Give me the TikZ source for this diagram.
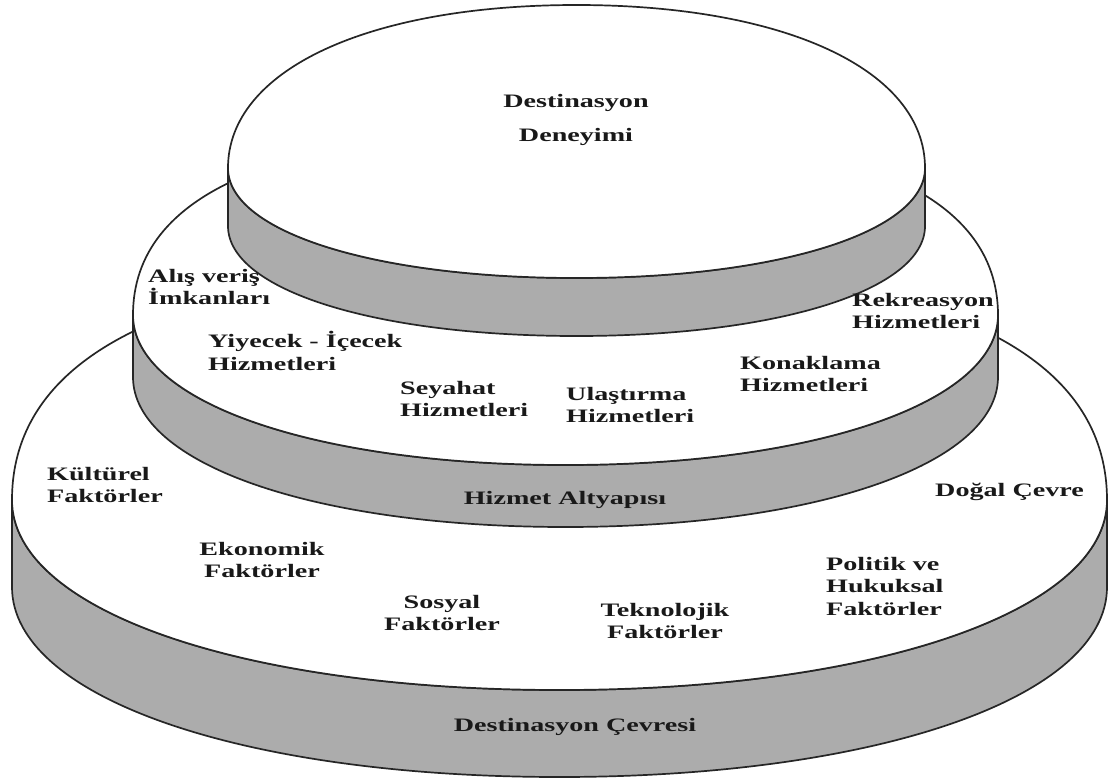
\documentclass[tikz,border=0pt]{standalone}
\usepackage{fontspec}
\setmainfont{Liberation Serif}[FakeStretch=1.48]
\definecolor{bandgray}{RGB}{172,172,172}
\newcommand\drawdisc[7]{%
  % #1 left x, #2 right x, #3 side y, #4 upper radius, #5 lower radius, #6 thickness, #7 upper squareness
  \pgfmathsetmacro\dCX{(#1+#2)/2}%
  \pgfmathsetmacro\dKX{0.58*(#2-#1)/2}%
  \pgfmathsetmacro\dKXU{#7*(#2-#1)/2}%
  \pgfmathsetmacro\dKU{#7*#4}%
  \pgfmathsetmacro\dKD{0.58*#5}%
  \pgfmathsetmacro\dYT{#3-#4}%
  \pgfmathsetmacro\dYB{#3+#5}%
  \filldraw[bandshape] (#1,#3) .. controls (#1,#3+\dKD) and (\dCX-\dKX,\dYB) .. (\dCX,\dYB)
    .. controls (\dCX+\dKX,\dYB) and (#2,#3+\dKD) .. (#2,#3) -- (#2,#3+#6)
    .. controls (#2,#3+#6+\dKD) and (\dCX+\dKX,\dYB+#6) .. (\dCX,\dYB+#6)
    .. controls (\dCX-\dKX,\dYB+#6) and (#1,#3+#6+\dKD) .. (#1,#3+#6) -- cycle;
  \filldraw[faceshape] (#1,#3) .. controls (#1,#3-\dKU) and (\dCX-\dKXU,\dYT) .. (\dCX,\dYT)
    .. controls (\dCX+\dKXU,\dYT) and (#2,#3-\dKU) .. (#2,#3)
    .. controls (#2,#3+\dKD) and (\dCX+\dKX,\dYB) .. (\dCX,\dYB)
    .. controls (\dCX-\dKX,\dYB) and (#1,#3+\dKD) .. (#1,#3) -- cycle;
}
\begin{document}
\begin{tikzpicture}[x=1pt,y=-1pt,
  bandshape/.style={fill=bandgray,draw=black!85,line width=1.7pt,line join=round},
  faceshape/.style={fill=white,draw=black!85,line width=1.7pt,line join=round},
  lbl/.style={font=\fontsize{19}{22.5}\selectfont\bfseries,inner sep=0pt,align=left,text=black!90}]
\useasboundingbox[fill=white] (0,0) rectangle (1119,782);
% lower disc
\drawdisc{12}{1107}{500}{236}{190}{87}{0.66}
% middle disc
\drawdisc{133}{998}{315}{185}{150}{62}{0.66}
% top disc
\drawdisc{228}{925}{168}{163}{110}{58}{0.6}
% top labels
\node[lbl,align=center] (deneyim) at (576,120) {Destinasyon\\[12pt]Deneyimi};
% middle labels
\node[lbl,anchor=west] (alis) at (148,287) {Alış veriş\\İmkanları};
\node[lbl,anchor=west] (yiyecek) at (208,351) {Yiyecek - İçecek\\Hizmetleri};
\node[lbl,anchor=west] (seyahat) at (400,399) {Seyahat\\Hizmetleri};
\node[lbl,anchor=west] (ulastirma) at (566,405) {Ulaştırma\\Hizmetleri};
\node[lbl,anchor=west] (konaklama) at (740,374) {Konaklama\\Hizmetleri};
\node[lbl,anchor=west] (rekreasyon) at (852,311) {Rekreasyon\\Hizmetleri};
\node[lbl,align=center] (hizmet) at (565,500) {Hizmet Altyapısı};
% lower labels
\node[lbl,anchor=west] (kulturel) at (47,485) {Kültürel\\Faktörler};
\node[lbl,align=center] (ekonomik) at (262,560) {Ekonomik\\Faktörler};
\node[lbl,align=center] (sosyal) at (442,613) {Sosyal\\Faktörler};
\node[lbl,align=center] (teknolojik) at (665,621) {Teknolojik\\Faktörler};
\node[lbl,anchor=west] (politik) at (826,586) {Politik ve\\Hukuksal\\Faktörler};
\node[lbl,anchor=west] (dogal) at (935,492) {Doğal Çevre};
\node[lbl,align=center] (cevresi) at (575,727) {Destinasyon Çevresi};
\end{tikzpicture}
\end{document}
